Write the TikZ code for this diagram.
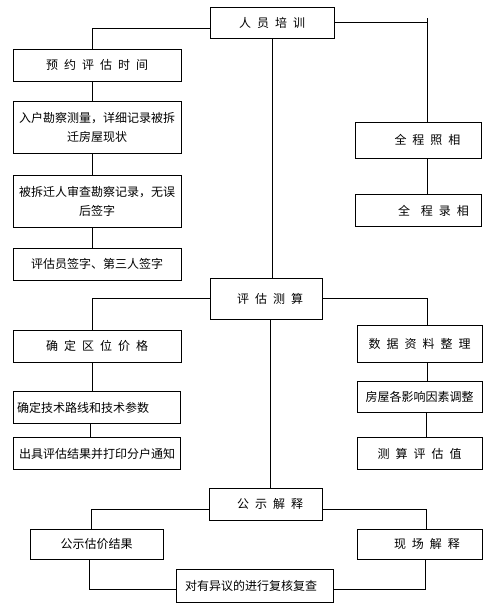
\documentclass[tikz,border=0pt]{standalone}
\usepackage{fontspec}
\setmainfont{Noto Sans CJK SC}
\usetikzlibrary{positioning}
\newcommand{\gp}{\hspace{6pt}}

\begin{document}
\begin{tikzpicture}[
	x=1pt, y=1pt,
	font=\fontsize{12}{19}\selectfont,
	% Define styles for the boxes
	box/.style={
		draw=black,
		line width=0.8pt,
		minimum height=32pt,
		minimum width=168pt,
		inner sep=2pt,
		align=center
	},
	rbox/.style={
		box,
		minimum width=126pt
	},
	link/.style={
		draw=black,
		line width=0.8pt
	}
	]
	
	\useasboundingbox (0,0) rectangle (490,-607);
	
	% --- 1. TRAINING ---
	\node[box, minimum width=124pt, minimum height=31pt] (peixun) at (272,-22.5) {人\gp 员\gp 培\gp 训};
	
	% left chain
	\node[box] (yuyue) at (97,-65) {预\gp 约\gp 评\gp 估\gp 时\gp 间};
	\node[box, minimum height=52pt, below=20pt of yuyue] (ruhu) {入户勘察测量，详细记录被拆\\迁房屋现状};
	\node[box, minimum height=52pt, below=21pt of ruhu] (shencha) {被拆迁人审查勘察记录，无误\\后签字};
	\node[box, below=20pt of shencha] (qianzi) {评估员签字、第三人签字};
	
	% right chain
	\node[rbox, minimum height=36pt] (zhaoxiang) at (418.5,-140) {\hspace*{18pt}全\gp 程\gp 照\gp 相};
	\node[rbox, below=36pt of zhaoxiang] (luxiang) {\hspace*{30pt}全\hspace{11pt}程\gp 录\gp 相};
	
	\draw[link] ([yshift=-6pt]peixun.west) -| ([xshift=-5pt]yuyue.north);
	\draw[link] (peixun.east) -| ([xshift=8.5pt]zhaoxiang.north);
	\draw[link] ([xshift=8.5pt]zhaoxiang.north |- peixun.east) -- ++(0,4.5);
	\draw[link] ([xshift=-5pt]yuyue.south) -- ([xshift=-5pt]ruhu.north);
	\draw[link] ([xshift=-5pt]ruhu.south) -- ([xshift=-5pt]shencha.north);
	\draw[link] ([xshift=-5pt]shencha.south) -- ([xshift=-5pt]qianzi.north);
	\draw[link] ([xshift=8.5pt]zhaoxiang.south) -- ([xshift=8.5pt]luxiang.north);
	
	% --- 2. ESTIMATION ---
	\node[box, minimum width=112pt, minimum height=41pt] (cesuan) at (266,-298.5) {\hspace*{8pt}评\gp 估\gp 测\gp 算};
	\draw[link] (peixun.south) -- (peixun.south |- cesuan.north);
	
	% left chain
	\node[box] (quwei) at (97,-346) {确\gp 定\gp 区\gp 位\gp 价\gp 格};
	\node[box, minimum width=167pt, below=29pt of quwei] (jishu) {确定技术路线和技术参数\hspace*{28pt}};
	\node[box, minimum width=167pt, below=13pt of jishu] (chuju) {出具评估结果并打印分户通知};
	
	% right chain
	\node[rbox, minimum width=125pt, minimum height=37pt] (shuju) at (419.5,-343.5) {数\gp 据\gp 资\gp 料\gp 整\gp 理};
	\node[rbox, minimum width=125pt, minimum height=31pt, below=19pt of shuju] (yingxiang) {房屋各影响因素调整};
	\node[rbox, minimum width=125pt, below=24pt of yingxiang] (guzhi) {测\gp 算\gp 评\gp 估\gp 值};
	
	\draw[link] (cesuan.west) -| ([xshift=-5pt]quwei.north);
	\draw[link] (cesuan.east) -| ([xshift=7.5pt]shuju.north);
	\draw[link] ([xshift=-5pt]quwei.south) -- ([xshift=-5pt]jishu.north);
	\draw[link] ([xshift=-7pt]jishu.south) -- ([xshift=-7pt]chuju.north);
	\draw[link] ([xshift=7.5pt]shuju.south) -- ([xshift=7.5pt]yingxiang.north);
	\draw[link] ([xshift=6.5pt]yingxiang.south) -- ([xshift=6.5pt]guzhi.north);
	
	% --- 3. PUBLICATION ---
	\node[box, minimum width=113pt] (jieshi) at (265.5,-504) {\hspace*{9pt}公\gp 示\gp 解\gp 释};
	\node[box, minimum width=133pt, minimum height=30pt] (gongshi) at (96.5,-544) {公示估价结果};
	\node[rbox, minimum width=125pt, minimum height=30pt] (xianchang) at (419.5,-544) {\hspace*{15pt}现\gp 场\gp 解\gp 释};
	\node[box, minimum width=157pt, minimum height=33pt] (fuhe) at (254.5,-585.5) {对有异议的进行复核复查\hspace*{7pt}};
	
	\draw[link] ([xshift=4pt]cesuan.south) -- ([xshift=4pt]cesuan.south |- jieshi.north);
	\draw[link] ([yshift=-5pt]jieshi.west) -| ([xshift=-5.5pt]gongshi.north);
	\draw[link] ([yshift=-5pt]jieshi.east) -| ([xshift=6.5pt]xianchang.north);
	\draw[link] ([xshift=-7.5pt]gongshi.south) |- ([yshift=-4pt]fuhe.west);
	\draw[link] ([xshift=5.5pt]xianchang.south) |- ([yshift=-4pt]fuhe.east);
	
\end{tikzpicture}
\end{document}
